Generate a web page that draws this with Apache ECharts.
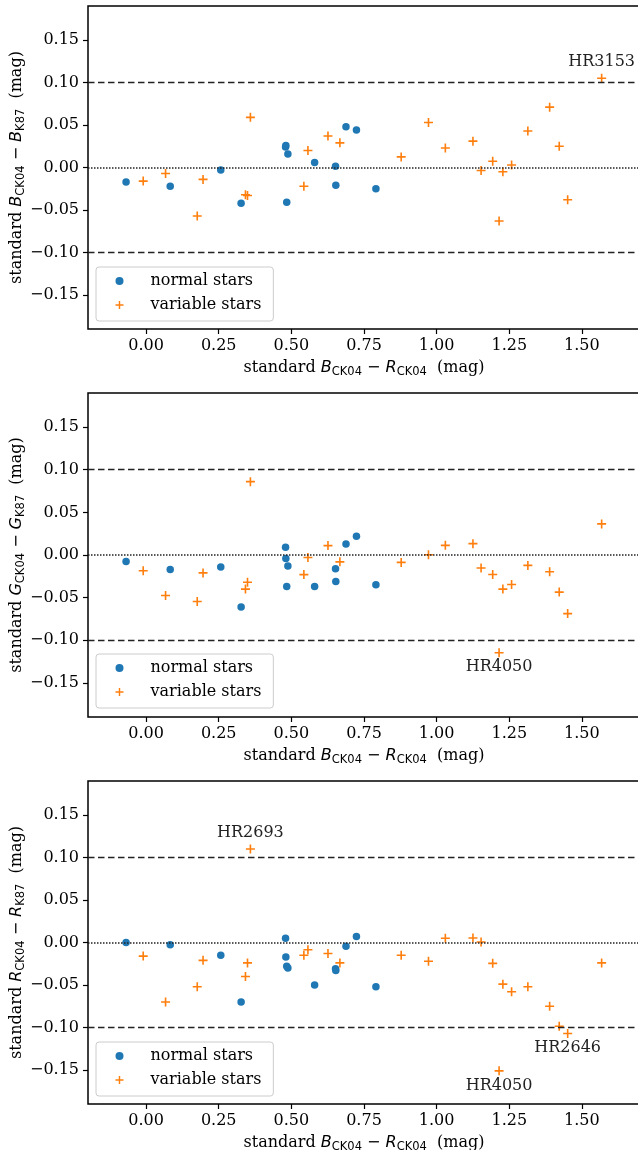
<!DOCTYPE html>
<html>
<head>
<meta charset="utf-8">
<script src="https://cdn.jsdelivr.net/npm/echarts@6/dist/echarts.min.js"></script>
<style>
html, body { margin: 0; padding: 0; background: #fff; }
#main { width: 638px; height: 1150px; }
</style>
</head>
<body>
<div id="main"></div>
<script>
// colour B-R (CK04) of each star
var xNormal = [-0.069, 0.083, 0.257, 0.327, 0.480, 0.481, 0.488, 0.484, 0.580, 0.652, 0.653, 0.688, 0.724, 0.791];
var xVariable = [-0.010, 0.067, 0.176, 0.196, 0.342, 0.349, 0.359, 0.543, 0.557, 0.626, 0.667, 0.878, 0.972,
                 1.030, 1.125, 1.153, 1.193, 1.215, 1.228, 1.258, 1.314, 1.389, 1.422, 1.451, 1.568];

// differences CK04 - K87, one array per band
var normalB = [-0.017, -0.022, -0.003, -0.042, 0.024, 0.026, 0.016, -0.041, 0.006, 0.0015, -0.021, 0.048, 0.044, -0.025];
var normalG = [-0.0075, -0.017, -0.014, -0.061, 0.009, -0.004, -0.013, -0.037, -0.037, -0.016, -0.031, 0.013, 0.022, -0.035];
var normalR = [0.000, -0.0025, -0.015, -0.070, 0.005, -0.017, -0.030, -0.028, -0.050, -0.031, -0.033, -0.0045, 0.007, -0.052];

var variableB = [-0.016, -0.007, -0.057, -0.014, -0.032, -0.033, 0.059, -0.022, 0.020, 0.037, 0.029, 0.0125, 0.053,
                 0.023, 0.031, -0.0035, 0.0074, -0.063, -0.005, 0.003, 0.043, 0.071, 0.025, -0.038, 0.105];
var variableG = [-0.0185, -0.0475, -0.0545, -0.021, -0.040, -0.032, 0.086, -0.023, -0.003, 0.011, -0.008, -0.0087, 0.0003,
                 0.0113, 0.0133, -0.0153, -0.0228, -0.1146, -0.040, -0.0346, -0.0122, -0.0196, -0.0435, -0.0687, 0.0365];
var variableR = [-0.016, -0.070, -0.052, -0.021, -0.040, -0.024, 0.110, -0.015, -0.0085, -0.013, -0.024, -0.015, -0.022,
                 0.005, 0.0053, 0.0006, -0.0245, -0.151, -0.049, -0.058, -0.052, -0.075, -0.0986, -0.107, -0.024];

// labelled stars: [name, index in xVariable, side]
var notesB = [['HR3153', 24, 'top']];
var notesG = [['HR4050', 17, 'bottom']];
var notesR = [['HR2693', 6, 'top'], ['HR2646', 23, 'bottom'], ['HR4050', 17, 'bottom']];

var xTicks = [0, 0.25, 0.5, 0.75, 1.0, 1.25, 1.5];
var yTicks = [-0.15, -0.10, -0.05, 0, 0.05, 0.10, 0.15];
var bands = ['B', 'G', 'R'];
var legendNames = ['normal stars', 'variable stars'];

var myChart = echarts.init(document.getElementById('main'));

var serif = 'DejaVu Serif';
var sans = 'DejaVu Sans';
var plus = 'path://M0,4.1 H4.1 V0 H5.9 V4.1 H10 V5.9 H5.9 V10 H4.1 V5.9 H0 Z';
var gridTops = [6, 393, 781];
var gridHeights = [323, 324, 323];

var nameRich = {
    s: { fontFamily: serif, fontSize: 16, lineHeight: 20, color: '#000' },
    i: { fontFamily: sans, fontStyle: 'italic', fontSize: 16, lineHeight: 20, color: '#000' },
    m: { fontFamily: sans, fontSize: 16, lineHeight: 20, color: '#000' },
    sub: { fontFamily: sans, fontSize: 11.5, lineHeight: 11, verticalAlign: 'bottom', color: '#000' }
};

function tickText(v) {
    return (v < 0 ? '\u2212' : '') + Math.abs(v).toFixed(2);
}

function pairs(xs, ys) {
    return xs.map(function (x, k) { return [x, ys[k]]; });
}

function withNotes(data, notes) {
    notes.forEach(function (n) {
        data[n[1]] = {
            value: data[n[1]],
            label: {
                show: true, formatter: n[0], position: n[2],
                distance: n[2] === 'top' ? 4 : 2,
                fontFamily: serif, fontSize: 16, color: '#222'
            }
        };
    });
    return data;
}

var grids = [], xAxes = [], yAxes = [], legends = [], series = [];
var normals = [normalB, normalG, normalR];
var variables = [variableB, variableG, variableR];
var notes = [notesB, notesG, notesR];

for (var i = 0; i < 3; i++) {
    var b = bands[i];
    grids.push({
        left: 88, top: gridTops[i], width: 552, height: gridHeights[i],
        containLabel: false, outerBoundsMode: 'none',
        show: true, borderColor: '#000', borderWidth: 1.5, backgroundColor: 'transparent'
    });
    xAxes.push({
        type: 'value', gridIndex: i, min: -0.2, max: 1.7,
        splitLine: { show: false },
        axisLine: { show: false, onZero: false },
        axisTick: { show: true, length: 5, lineStyle: { color: '#000', width: 1.2 }, customValues: xTicks },
        axisLabel: { fontFamily: serif, fontSize: 16, color: '#000', margin: 9, customValues: xTicks, formatter: tickText },
        name: '{s|standard }{i|B}{sub|CK04}{m| \u2212 }{i|R}{sub|CK04}{s|  (mag)}',
        nameLocation: 'middle', nameGap: 29, nameMoveOverlap: false,
        nameTextStyle: { rich: nameRich }
    });
    yAxes.push({
        type: 'value', gridIndex: i, min: -0.19, max: 0.19,
        splitLine: { show: false },
        axisLine: { show: false, onZero: false },
        axisTick: { show: true, length: 5, lineStyle: { color: '#000', width: 1.2 }, customValues: yTicks },
        axisLabel: { fontFamily: serif, fontSize: 16, color: '#000', margin: 9, customValues: yTicks, formatter: tickText },
        name: '{s|standard }{i|' + b + '}{sub|CK04}{m| \u2212 }{i|' + b + '}{sub|K87}{s|  (mag)}',
        nameLocation: 'middle', nameGap: 61, nameMoveOverlap: false,
        nameTextStyle: { rich: nameRich }
    });
    legends.push({
        data: legendNames, orient: 'vertical',
        left: 96, top: [267, 654, 1042][i],
        padding: [5, 12, 7, 19.5], itemGap: 6,
        itemWidth: 30, itemHeight: 8,
        backgroundColor: 'rgba(255,255,255,0.8)', borderColor: '#cccccc', borderWidth: 1, borderRadius: 3,
        textStyle: { fontFamily: serif, fontSize: 16, color: '#000', lineHeight: 18, padding: [0, 0, 0, 11] }
    });
    series.push({
        name: 'normal stars', type: 'scatter', xAxisIndex: i, yAxisIndex: i,
        symbol: 'circle', symbolSize: 7.5,
        itemStyle: { color: '#1f77b4', opacity: 1 },
        data: pairs(xNormal, normals[i]), z: 3
    });
    series.push({
        name: 'variable stars', type: 'scatter', xAxisIndex: i, yAxisIndex: i,
        symbol: plus, symbolSize: 9,
        itemStyle: { color: '#ff7f0e', opacity: 1 },
        data: withNotes(pairs(xVariable, variables[i]), notes[i]), z: 4
    });
    series.push({
        name: 'limits', type: 'line', xAxisIndex: i, yAxisIndex: i, data: [], silent: true,
        markLine: {
            silent: true, symbol: ['none', 'none'], label: { show: false },
            data: [
                { yAxis: 0.1, lineStyle: { color: '#222', width: 1.3, type: [6.5, 3.5] } },
                { yAxis: -0.1, lineStyle: { color: '#222', width: 1.3, type: [6.5, 3.5] } },
                { yAxis: 0, lineStyle: { color: '#222', width: 1.5, type: [1.5, 1.5] } }
            ]
        }
    });
}

var option = {
    animation: false,
    backgroundColor: '#fff',
    grid: grids,
    xAxis: xAxes,
    yAxis: yAxes,
    legend: legends,
    series: series
};

myChart.setOption(option);
</script>
</body>
</html>
